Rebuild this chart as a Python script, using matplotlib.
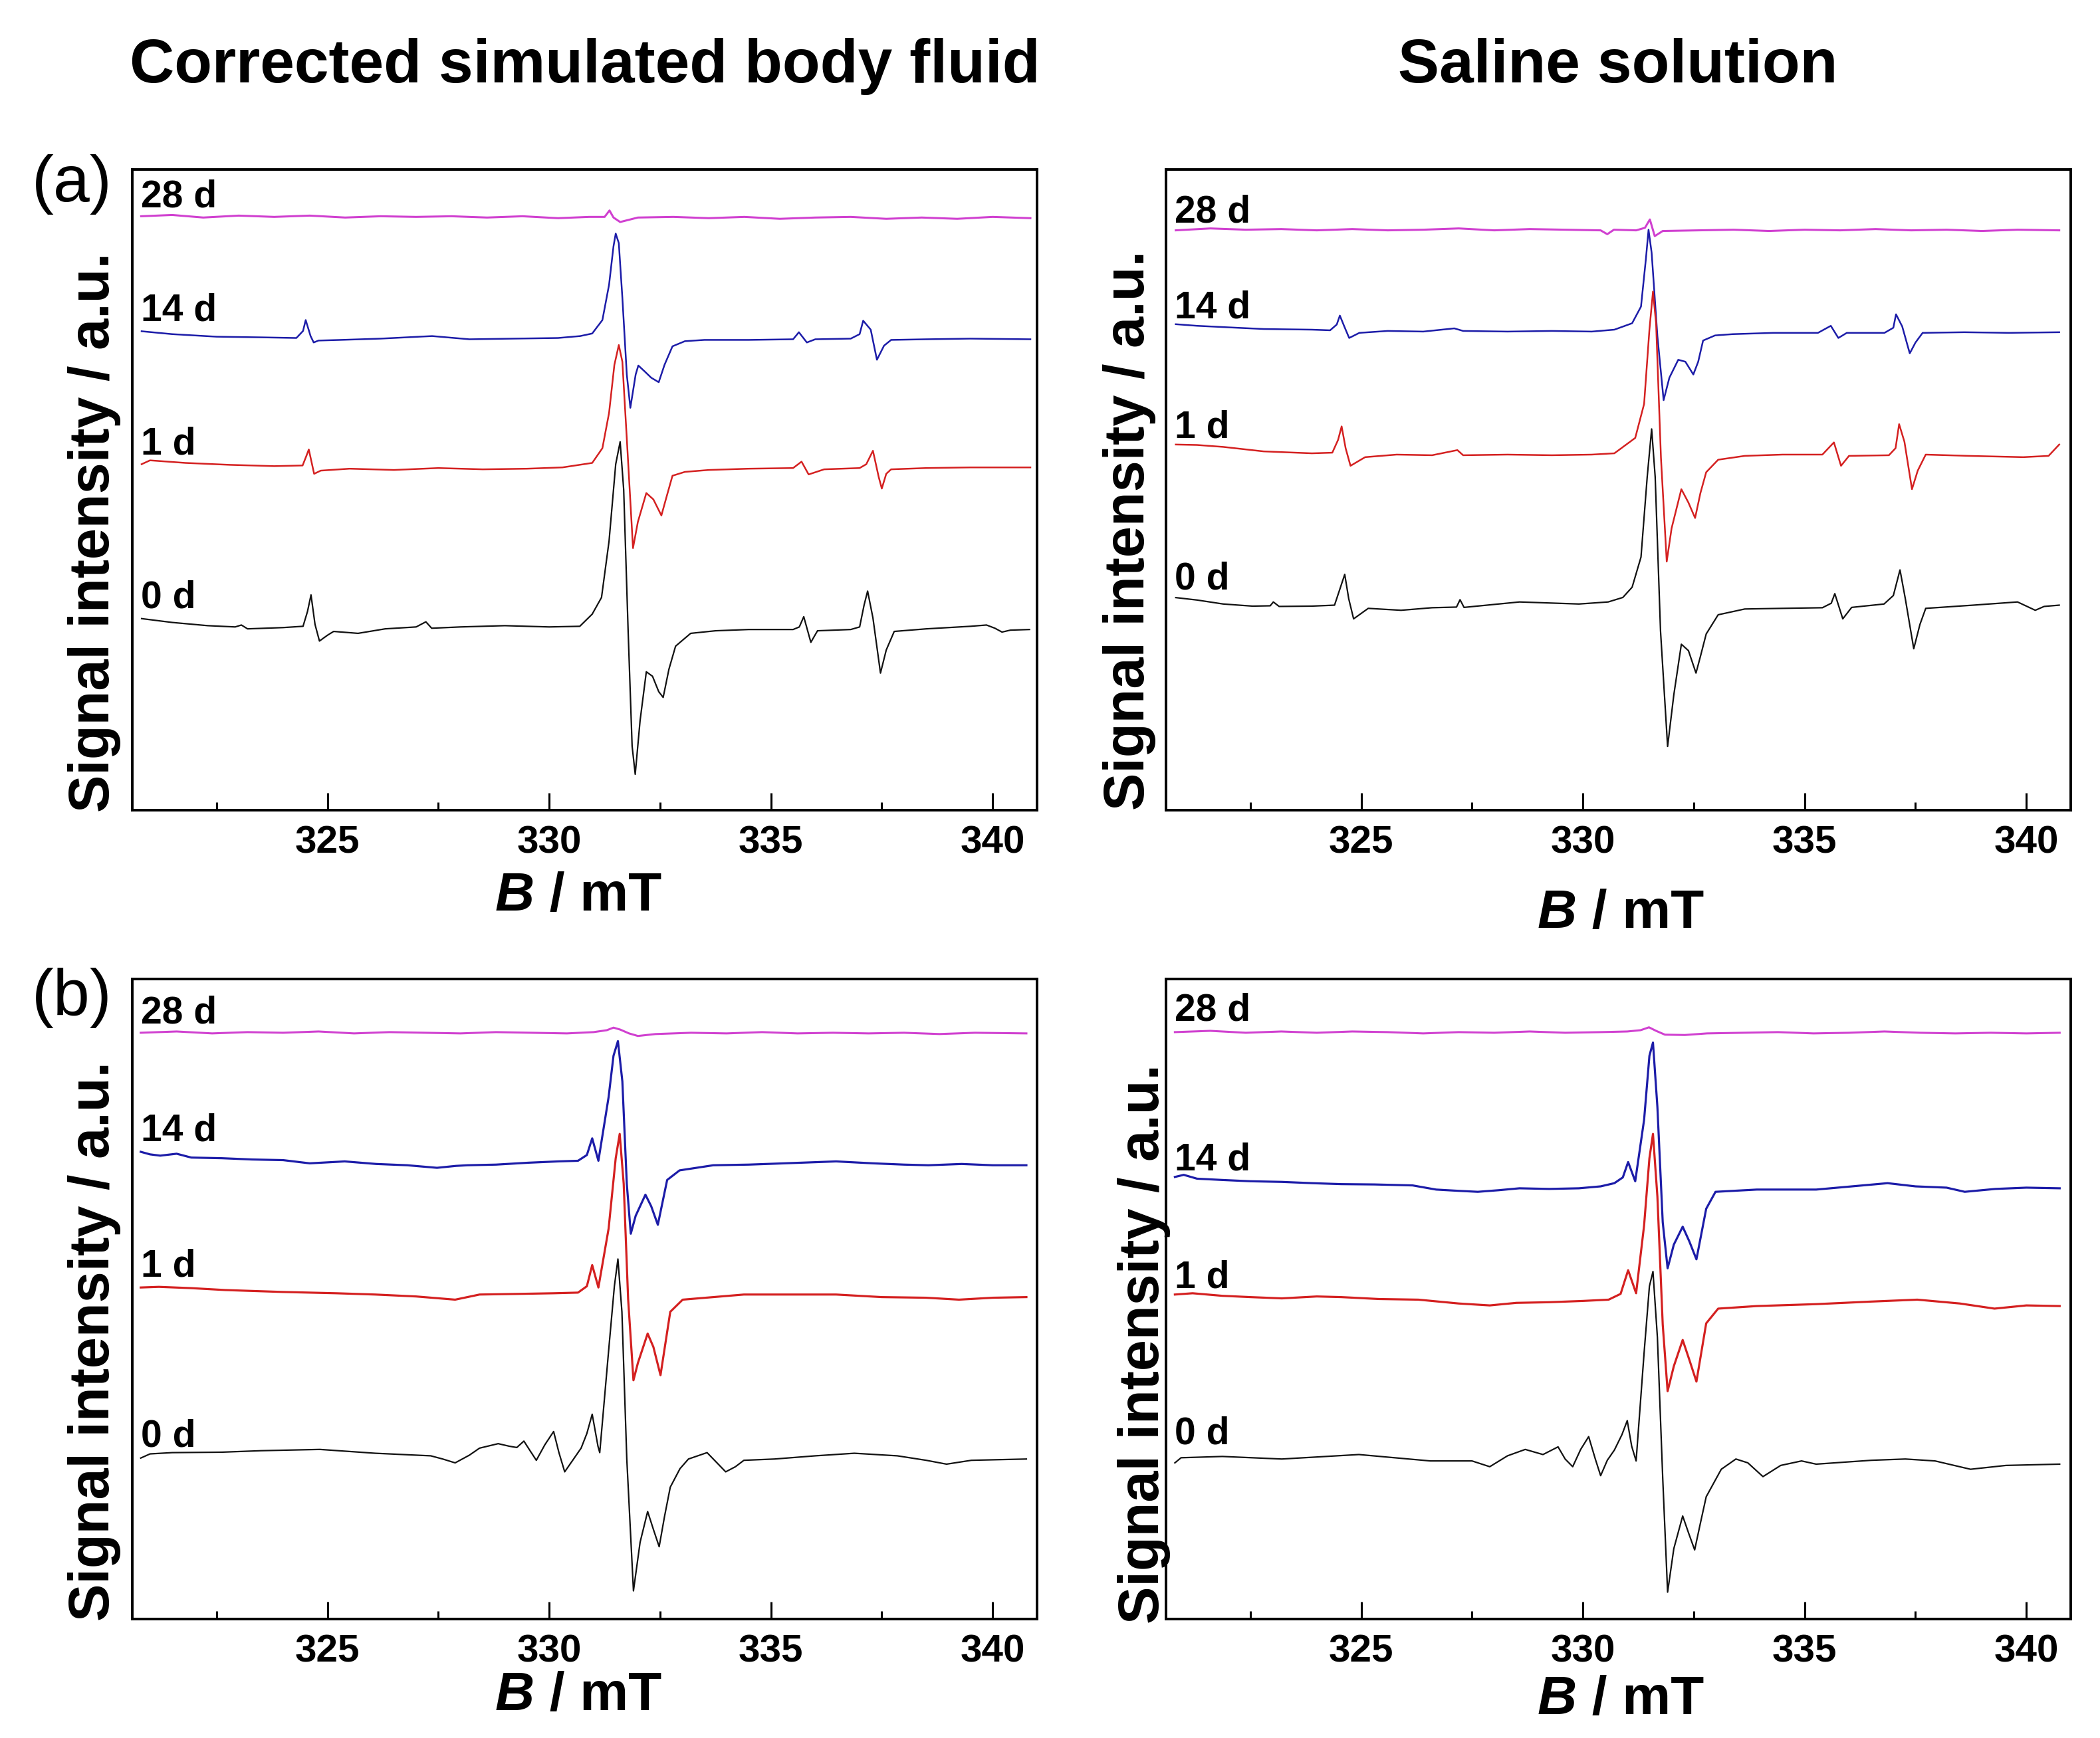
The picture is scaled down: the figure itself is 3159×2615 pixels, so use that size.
import numpy as np
import matplotlib
matplotlib.use("Agg")
import matplotlib.pyplot as plt
from matplotlib.ticker import MultipleLocator

plt.rcParams['font.family'] = ['Liberation Sans', 'DejaVu Sans']
plt.rcParams['font.weight'] = 'bold'

# EPR spectra: (B / mT, signal in a.u., 0-100 per panel)
day_labels = ['28 d', '14 d', '1 d', '0 d']
day_colors = ['#d040d0', '#1c1ca8', '#d42020', '#111111']

# (a) corrected simulated body fluid
a_csbf_28d = [(320.8, 92.7), (321.5, 92.9), (322.2, 92.5), (323.0, 92.8), (323.8, 92.6), (324.6, 92.8),
              (325.4, 92.5), (326.2, 92.7), (327.0, 92.6), (327.8, 92.7), (328.6, 92.5), (329.4, 92.7),
              (330.2, 92.4), (330.9, 92.6), (331.25, 92.6), (331.36, 93.6), (331.45, 92.5), (331.6, 91.8),
              (332.0, 92.5), (332.8, 92.6), (333.6, 92.4), (334.4, 92.6), (335.2, 92.3), (336.0, 92.5),
              (336.8, 92.6), (337.6, 92.3), (338.4, 92.5), (339.2, 92.3), (340.0, 92.6), (340.85, 92.4)]
a_csbf_14d = [(320.81, 74.75), (321.5, 74.3), (322.5, 73.9), (323.5, 73.8), (324.3, 73.7), (324.45, 74.8),
              (324.51, 76.5), (324.62, 74.0), (324.69, 73.0), (324.8, 73.3), (325.3, 73.4), (326.2, 73.6),
              (327.36, 74.0), (328.2, 73.5), (329.2, 73.6), (330.2, 73.7), (330.7, 74.0), (330.97, 74.4),
              (331.2, 76.5), (331.35, 82.0), (331.45, 88.0), (331.5, 90.0), (331.57, 88.5), (331.65, 80.0),
              (331.75, 68.0), (331.83, 62.8), (331.95, 68.0), (332.01, 69.4), (332.15, 68.5), (332.3, 67.5),
              (332.47, 66.8), (332.6, 69.5), (332.78, 72.4), (333.06, 73.2), (333.5, 73.4), (334.5, 73.4),
              (335.5, 73.5), (335.63, 74.6), (335.81, 73.0), (336.0, 73.5), (336.8, 73.6), (337.0, 74.3),
              (337.08, 76.4), (337.25, 75.0), (337.39, 70.3), (337.55, 72.5), (337.71, 73.4), (338.5, 73.5),
              (339.5, 73.6), (340.85, 73.5)]
a_csbf_1d = [(320.81, 54.0), (321.0, 54.6), (321.8, 54.2), (322.8, 53.9), (323.8, 53.7), (324.44, 53.8),
             (324.52, 55.2), (324.58, 56.3), (324.7, 52.5), (324.85, 53.0), (325.5, 53.3), (326.5, 53.1),
             (327.5, 53.4), (328.5, 53.2), (329.5, 53.3), (330.3, 53.5), (330.97, 54.2), (331.2, 56.5),
             (331.35, 62.0), (331.47, 69.5), (331.57, 72.6), (331.65, 70.0), (331.75, 58.0), (331.89, 40.9),
             (332.0, 45.0), (332.19, 49.5), (332.35, 48.5), (332.53, 46.0), (332.65, 49.0), (332.78, 52.2),
             (333.06, 52.8), (333.6, 53.1), (334.5, 53.3), (335.5, 53.4), (335.69, 54.4), (335.85, 52.4),
             (336.2, 53.2), (337.0, 53.4), (337.15, 54.0), (337.3, 56.1), (337.43, 52.0), (337.5, 50.2),
             (337.6, 52.5), (337.71, 53.2), (338.5, 53.4), (339.5, 53.5), (340.85, 53.5)]
a_csbf_0d = [(320.81, 29.9), (321.5, 29.3), (322.3, 28.8), (322.92, 28.6), (323.06, 28.9), (323.2, 28.3),
             (324.0, 28.5), (324.45, 28.7), (324.55, 31.0), (324.63, 33.6), (324.72, 29.0), (324.82, 26.4),
             (325.0, 27.3), (325.14, 27.9), (325.69, 27.6), (326.3, 28.3), (327.0, 28.6), (327.22, 29.4),
             (327.35, 28.4), (328.0, 28.6), (329.0, 28.8), (330.0, 28.6), (330.69, 28.7), (330.97, 30.6),
             (331.18, 33.2), (331.35, 42.0), (331.5, 54.0), (331.6, 57.5), (331.68, 50.0), (331.78, 28.0),
             (331.87, 10.0), (331.94, 5.6), (332.05, 14.0), (332.19, 21.6), (332.33, 20.9), (332.47, 18.5),
             (332.57, 17.6), (332.7, 22.0), (332.85, 25.6), (333.19, 27.6), (333.75, 28.0), (334.5, 28.2),
             (335.5, 28.2), (335.64, 28.6), (335.74, 30.2), (335.9, 26.2), (336.05, 28.0), (336.8, 28.2),
             (337.0, 28.6), (337.1, 32.0), (337.18, 34.2), (337.3, 30.0), (337.47, 21.4), (337.6, 25.0),
             (337.78, 27.9), (338.5, 28.3), (339.5, 28.7), (339.86, 28.9), (340.05, 28.4), (340.21, 27.8),
             (340.4, 28.1), (340.83, 28.2)]

# (a) saline solution
a_sal_28d = [(320.82, 90.5), (321.6, 90.8), (322.4, 90.6), (323.2, 90.7), (324.0, 90.5), (324.8, 90.7),
             (325.6, 90.5), (326.4, 90.6), (327.2, 90.8), (328.0, 90.5), (328.8, 90.7), (329.6, 90.6),
             (330.4, 90.5), (330.55, 89.9), (330.7, 90.6), (331.2, 90.5), (331.4, 90.9), (331.51, 92.2),
             (331.62, 89.6), (331.8, 90.4), (332.6, 90.5), (333.4, 90.6), (334.2, 90.4), (335.0, 90.6),
             (335.8, 90.5), (336.6, 90.7), (337.4, 90.5), (338.2, 90.6), (339.0, 90.4), (339.8, 90.6),
             (340.74, 90.5)]
a_sal_14d = [(320.82, 75.85), (321.3, 75.6), (321.89, 75.4), (322.8, 75.1), (323.89, 75.0), (324.3, 74.9),
             (324.45, 75.8), (324.52, 77.2), (324.62, 75.5), (324.73, 73.7), (324.96, 74.5), (325.6, 74.8),
             (326.4, 74.7), (327.1, 75.2), (327.3, 74.8), (328.3, 74.7), (329.3, 74.8), (330.2, 74.7),
             (330.71, 75.0), (331.11, 76.0), (331.31, 78.6), (331.42, 86.0), (331.48, 90.6), (331.55, 87.0),
             (331.68, 74.0), (331.82, 64.0), (331.95, 67.5), (332.15, 70.3), (332.31, 70.0), (332.49, 68.0),
             (332.6, 70.0), (332.71, 73.3), (332.98, 74.1), (333.38, 74.3), (334.3, 74.5), (335.3, 74.5),
             (335.59, 75.6), (335.76, 73.7), (335.95, 74.5), (336.8, 74.5), (337.0, 75.3), (337.06, 77.4),
             (337.2, 75.5), (337.37, 71.3), (337.5, 73.0), (337.66, 74.5), (338.6, 74.6), (339.6, 74.5),
             (340.74, 74.6)]
a_sal_1d = [(320.82, 57.07), (321.3, 57.0), (321.89, 56.7), (322.8, 56.0), (323.89, 55.7), (324.35, 55.8),
            (324.48, 57.8), (324.56, 59.9), (324.65, 56.5), (324.76, 53.75), (325.09, 55.1), (325.8, 55.5),
            (326.6, 55.4), (327.17, 56.2), (327.3, 55.4), (328.3, 55.5), (329.3, 55.4), (330.2, 55.5),
            (330.71, 55.7), (331.18, 58.1), (331.38, 63.4), (331.5, 75.0), (331.58, 80.95), (331.65, 76.0),
            (331.76, 55.0), (331.89, 38.8), (332.0, 44.0), (332.22, 50.1), (332.38, 48.0), (332.53, 45.6),
            (332.65, 49.5), (332.78, 52.75), (333.05, 54.7), (333.65, 55.3), (334.5, 55.5), (335.4, 55.5),
            (335.66, 57.4), (335.82, 53.75), (336.0, 55.3), (336.9, 55.4), (337.05, 56.5), (337.13, 60.25),
            (337.25, 57.5), (337.42, 50.1), (337.55, 53.0), (337.73, 55.5), (338.7, 55.3), (339.93, 55.1),
            (340.5, 55.3), (340.74, 57.07)]
a_sal_0d = [(320.82, 33.18), (321.3, 32.8), (321.89, 32.18), (322.55, 31.85), (322.95, 31.9), (323.02, 32.5),
            (323.15, 31.8), (323.89, 31.85), (324.4, 32.0), (324.52, 34.5), (324.63, 36.8), (324.72, 33.0),
            (324.83, 29.86), (325.16, 31.5), (325.9, 31.2), (326.6, 31.6), (327.15, 31.7), (327.23, 32.85),
            (327.32, 31.65), (328.57, 32.5), (329.91, 32.18), (330.57, 32.5), (330.9, 33.2), (331.11, 34.8),
            (331.31, 39.5), (331.45, 52.0), (331.55, 59.5), (331.63, 52.0), (331.75, 28.0), (331.91, 9.95),
            (332.05, 18.0), (332.22, 25.9), (332.38, 24.9), (332.55, 21.4), (332.65, 24.0), (332.78, 27.5),
            (333.05, 30.5), (333.65, 31.4), (334.5, 31.5), (335.4, 31.6), (335.6, 32.3), (335.68, 33.8),
            (335.86, 29.86), (336.06, 31.65), (336.79, 32.18), (337.0, 33.5), (337.15, 37.5), (337.27, 33.0),
            (337.46, 25.2), (337.6, 29.0), (337.73, 31.5), (338.8, 32.0), (339.8, 32.5), (340.2, 31.2),
            (340.4, 31.8), (340.74, 32.0)]

# (b) corrected simulated body fluid
b_csbf_28d = [(320.79, 91.6), (321.6, 91.8), (322.4, 91.5), (323.2, 91.7), (324.0, 91.6), (324.8, 91.8),
              (325.6, 91.5), (326.4, 91.7), (327.2, 91.6), (328.0, 91.5), (328.8, 91.7), (329.6, 91.6),
              (330.4, 91.5), (331.0, 91.7), (331.3, 92.0), (331.45, 92.4), (331.6, 92.1), (331.8, 91.5),
              (332.0, 91.1), (332.4, 91.4), (333.2, 91.6), (334.0, 91.5), (334.8, 91.7), (335.6, 91.5),
              (336.4, 91.6), (337.2, 91.5), (338.0, 91.6), (338.8, 91.4), (339.6, 91.6), (340.76, 91.5)]
b_csbf_14d = [(320.79, 73.0), (321.0, 72.6), (321.23, 72.4), (321.6, 72.7), (321.93, 72.1), (322.62, 72.0),
              (323.3, 71.8), (324.0, 71.7), (324.6, 71.2), (325.39, 71.5), (326.1, 71.1), (326.8, 70.9),
              (327.47, 70.5), (327.9, 70.8), (328.16, 70.9), (328.8, 71.0), (329.54, 71.3), (330.2, 71.5),
              (330.65, 71.6), (330.85, 72.5), (330.97, 75.1), (331.11, 71.6), (331.34, 81.55), (331.45, 88.0),
              (331.55, 90.3), (331.65, 84.0), (331.75, 68.0), (331.84, 60.2), (331.95, 63.0), (332.17, 66.3),
              (332.3, 64.5), (332.45, 61.6), (332.66, 68.6), (332.94, 70.1), (333.7, 70.9), (334.5, 71.0),
              (335.3, 71.2), (336.47, 71.5), (337.3, 71.2), (338.0, 71.0), (338.55, 70.9), (339.3, 71.1),
              (340.0, 70.9), (340.76, 70.9)]
b_csbf_1d = [(320.79, 51.8), (321.2, 51.9), (321.93, 51.7), (322.7, 51.4), (324.0, 51.1), (325.2, 50.9),
             (326.08, 50.7), (327.0, 50.4), (327.88, 49.9), (328.43, 50.7), (329.3, 50.8), (330.1, 50.9),
             (330.65, 51.0), (330.85, 52.0), (330.97, 55.3), (331.11, 51.8), (331.34, 61.0), (331.5, 72.0),
             (331.59, 75.8), (331.68, 68.0), (331.78, 50.0), (331.9, 37.3), (332.0, 40.0), (332.22, 44.6),
             (332.35, 42.5), (332.51, 38.1), (332.73, 48.0), (333.01, 49.9), (334.39, 50.7), (336.47, 50.7),
             (337.5, 50.3), (338.5, 50.2), (339.24, 49.9), (340.0, 50.2), (340.76, 50.3)]
b_csbf_0d = [(320.79, 25.15), (321.0, 25.8), (321.5, 26.0), (322.62, 26.07), (323.5, 26.3), (324.83, 26.5),
             (326.08, 25.9), (327.33, 25.5), (327.6, 25.0), (327.88, 24.4), (328.2, 25.6), (328.43, 26.7),
             (328.85, 27.4), (329.1, 27.0), (329.27, 26.8), (329.43, 27.8), (329.55, 26.5), (329.71, 24.8),
             (329.9, 27.2), (330.1, 29.3), (330.22, 26.0), (330.35, 23.0), (330.55, 25.0), (330.72, 26.7),
             (330.85, 29.0), (330.97, 32.0), (331.1, 27.0), (331.14, 26.0), (331.34, 41.9), (331.47, 52.0),
             (331.55, 56.25), (331.64, 48.0), (331.75, 25.0), (331.9, 4.4), (332.05, 12.0), (332.22, 16.8),
             (332.35, 14.0), (332.48, 11.3), (332.6, 16.0), (332.73, 20.6), (332.95, 23.5), (333.14, 25.0),
             (333.56, 26.0), (333.98, 23.0), (334.2, 23.8), (334.39, 24.8), (335.08, 25.0), (336.0, 25.5),
             (336.88, 25.9), (337.85, 25.5), (338.5, 24.8), (338.96, 24.2), (339.52, 24.8), (340.76, 25.0)]

# (b) saline solution
b_sal_28d = [(320.8, 91.7), (321.6, 91.9), (322.4, 91.6), (323.2, 91.8), (324.0, 91.6), (324.8, 91.8),
             (325.6, 91.7), (326.4, 91.5), (327.2, 91.7), (328.0, 91.6), (328.8, 91.8), (329.6, 91.6),
             (330.4, 91.7), (331.0, 91.8), (331.3, 92.0), (331.49, 92.45), (331.65, 91.9), (331.85, 91.3),
             (332.3, 91.25), (332.8, 91.5), (333.6, 91.6), (334.4, 91.7), (335.2, 91.5), (336.0, 91.6),
             (336.8, 91.8), (337.6, 91.6), (338.4, 91.5), (339.2, 91.6), (340.0, 91.5), (340.75, 91.6)]
b_sal_14d = [(320.8, 69.07), (321.0, 69.4), (321.3, 68.8), (321.87, 68.6), (322.5, 68.4), (323.21, 68.3),
             (323.9, 68.1), (324.55, 67.95), (325.3, 67.9), (326.16, 67.75), (326.69, 67.1), (327.2, 66.9),
             (327.63, 66.75), (328.1, 67.0), (328.57, 67.3), (329.24, 67.2), (329.91, 67.3), (330.4, 67.6),
             (330.71, 68.1), (330.9, 69.0), (331.02, 71.4), (331.18, 68.4), (331.38, 78.0), (331.5, 88.0),
             (331.58, 90.07), (331.68, 80.0), (331.8, 62.0), (331.91, 54.8), (332.05, 58.5), (332.25, 61.3),
             (332.4, 59.0), (332.56, 56.2), (332.78, 64.1), (332.99, 66.75), (333.92, 67.1), (335.26, 67.1),
             (336.87, 68.1), (337.5, 67.6), (338.2, 67.4), (338.61, 66.75), (339.3, 67.2), (340.0, 67.4),
             (340.75, 67.3)]
b_sal_1d = [(320.8, 50.7), (321.2, 50.9), (321.87, 50.5), (322.5, 50.3), (323.21, 50.1), (324.0, 50.4),
            (324.55, 50.3), (325.4, 50.0), (326.29, 49.9), (327.2, 49.3), (327.9, 49.0), (328.5, 49.4),
            (329.24, 49.5), (330.0, 49.7), (330.58, 49.9), (330.85, 50.8), (331.02, 54.5), (331.2, 50.9),
            (331.38, 61.5), (331.5, 72.0), (331.58, 75.8), (331.68, 66.0), (331.8, 46.0), (331.91, 35.6),
            (332.05, 39.5), (332.25, 43.6), (332.4, 40.5), (332.56, 37.1), (332.78, 46.2), (333.05, 48.5),
            (333.92, 48.9), (335.26, 49.2), (336.5, 49.6), (337.54, 49.9), (338.5, 49.3), (339.28, 48.5),
            (340.0, 49.0), (340.75, 48.9)]
b_sal_0d = [(320.8, 24.4), (320.94, 25.2), (321.87, 25.4), (323.21, 25.0), (324.95, 25.7), (326.56, 24.7),
            (327.5, 24.7), (327.9, 23.8), (328.3, 25.5), (328.7, 26.5), (329.1, 25.7), (329.44, 26.9),
            (329.6, 25.0), (329.77, 23.8), (329.95, 26.5), (330.13, 28.5), (330.28, 25.0), (330.4, 22.4),
            (330.55, 24.8), (330.71, 26.4), (330.88, 28.8), (331.0, 31.0), (331.1, 27.0), (331.2, 24.7),
            (331.38, 41.6), (331.5, 52.0), (331.58, 54.3), (331.68, 44.0), (331.8, 22.0), (331.91, 4.2),
            (332.05, 11.0), (332.25, 16.1), (332.38, 13.5), (332.52, 10.8), (332.65, 15.0), (332.78, 19.1),
            (333.12, 23.4), (333.45, 25.0), (333.72, 24.4), (334.06, 22.25), (334.46, 24.0), (334.93, 24.7),
            (335.26, 24.2), (336.5, 24.8), (337.27, 25.0), (337.94, 24.7), (338.74, 23.4), (339.54, 24.0),
            (340.75, 24.2)]

W, H = 3159, 2615
fig = plt.figure(figsize=(W / 100, H / 100), dpi=100)


def fx(px):
    return px / W


def fy(py):
    return 1 - py / H


# panel boxes in pixels: left, top, right, bottom; label offsets above each trace start
panels = [
    ((199, 255, 1560, 1219), [a_csbf_28d, a_csbf_14d, a_csbf_1d, a_csbf_0d], [1.4, 1.6, 1.6, 1.7],
     [2.2, 1.8, 1.8, 1.6]),
    ((1754, 255, 3115, 1219), [a_sal_28d, a_sal_14d, a_sal_1d, a_sal_0d], [1.3, 1.0, 1.1, 1.3],
     [2.2, 1.8, 1.8, 1.6]),
    ((199, 1473, 1560, 2436), [b_csbf_28d, b_csbf_14d, b_csbf_1d, b_csbf_0d], [1.5, 1.7, 1.7, 1.8],
     [2.2, 2.3, 2.3, 1.6]),
    ((1754, 1473, 3115, 2436), [b_sal_28d, b_sal_14d, b_sal_1d, b_sal_0d], [1.8, 1.1, 1.1, 3.0],
     [2.2, 2.3, 2.3, 1.6]),
]

for (l, t, r, b), spectra, dys, lws in panels:
    ax = fig.add_axes([fx(l), fy(b), fx(r) - fx(l), fy(t) - fy(b)])
    for spec, name, col, dy, lw in zip(spectra, day_labels, day_colors, dys, lws):
        arr = np.array(spec)
        ax.plot(arr[:, 0], arr[:, 1], color=col, lw=lw)
        ax.text(320.8, arr[0, 1] + dy, name, fontsize=41, fontweight='bold', va='baseline', ha='left')
    ax.set_xlim(320.6, 341.0)
    ax.set_ylim(0, 100)
    ax.set_xticks([325, 330, 335, 340])
    ax.xaxis.set_minor_locator(MultipleLocator(2.5))
    ax.set_yticks([])
    ax.tick_params(axis='x', which='major', direction='in', length=19, width=2.2,
                   labelsize=42, pad=16)
    ax.tick_params(axis='x', which='minor', direction='in', length=9, width=2.2)
    for lab in ax.get_xticklabels():
        lab.set_fontweight('bold')
    for sp in ax.spines.values():
        sp.set_linewidth(2.8)

# column titles
fig.text(fx(880), fy(124), 'Corrected simulated body fluid', ha='center', va='baseline',
         fontsize=67, fontweight='bold')
fig.text(fx(2434), fy(124), 'Saline solution', ha='center', va='baseline',
         fontsize=67, fontweight='bold')

# panel letters
fig.text(fx(48), fy(303), '(a)', ha='left', va='baseline', fontsize=71, fontweight='normal')
fig.text(fx(48), fy(1527), '(b)', ha='left', va='baseline', fontsize=71, fontweight='normal')

# y labels
for x, y in [(142, 801), (1699, 798), (142, 2018), (1721, 2022)]:
    fig.text(fx(x), fy(y), 'Signal intensity / a.u.', rotation=90, ha='center', va='center',
             fontsize=61, fontweight='bold')

# x labels: italic B followed by " / mT"
for x, y in [(870, 1370), (2438, 1396), (870, 2573), (2438, 2579)]:
    fig.text(fx(x - 66), fy(y), 'B', ha='right', va='baseline', fontsize=59,
             fontweight='bold', fontstyle='italic')
    fig.text(fx(x - 66), fy(y), ' / mT', ha='left', va='baseline', fontsize=59, fontweight='bold')

fig.savefig('out.png', dpi=100, facecolor='white')
